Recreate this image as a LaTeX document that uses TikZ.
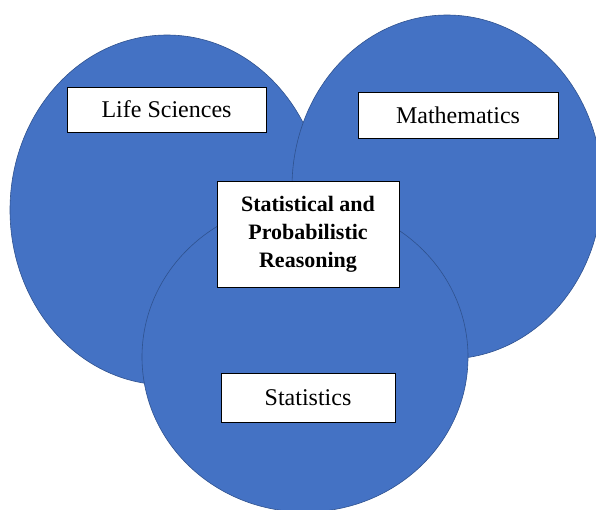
\documentclass[tikz,border=0pt]{standalone}
\usepackage{fontspec}
\setmainfont{Liberation Serif}
\usetikzlibrary{shapes.geometric}
\definecolor{vennfill}{HTML}{4472C4}
\definecolor{vennline}{HTML}{2F528F}
\begin{document}
\begin{tikzpicture}[x=1pt,y=-1pt,
  venn/.style={ellipse, draw=vennline, line width=0.6pt, fill=vennfill, inner sep=0pt, outer sep=0pt},
  tagbox/.style={draw=black, line width=1pt, fill=white, inner sep=0pt, outer sep=0pt,
    font=\fontsize{24}{28}\selectfont, text=black, align=center}]
\path[use as bounding box, clip] (0,0) rectangle (596,509);
\node[venn, minimum width=314pt, minimum height=350pt] (life) at (167,210) {};
\node[venn, minimum width=310pt, minimum height=344pt] (math) at (447,187) {};
\node[venn, minimum width=326pt, minimum height=310pt] (stat) at (305,357) {};
\node[tagbox, minimum width=199pt, minimum height=45pt] (lifel) at (166.5,109.5) {Life Sciences};
\node[tagbox, minimum width=200pt, minimum height=46pt] (mathl) at (458,115) {Mathematics};
\node[tagbox, minimum width=174pt, minimum height=49pt] (statl) at (308,397.5) {Statistics};
\node[tagbox, minimum width=182pt, minimum height=106pt, font=\fontsize{22}{28}\selectfont\bfseries] (core) at (308,234) {Statistical and\\Probabilistic\\Reasoning};
\end{tikzpicture}
\end{document}
